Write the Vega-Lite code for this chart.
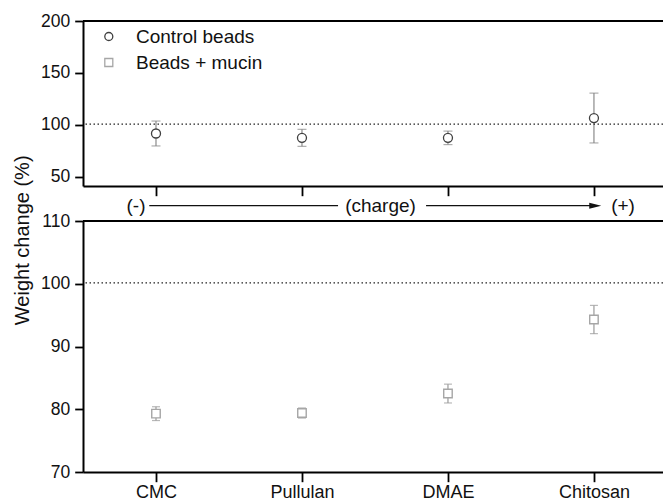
{
  "$schema": "https://vega.github.io/schema/vega-lite/v6.json",
  "padding": {"left": 12, "top": 12, "right": 0, "bottom": 0},
  "bounds": "flush",
  "spacing": 35,
  "config": {
    "view": {"stroke": null},
    "font": "Liberation Sans",
    "axis": {
      "domainColor": "#000",
      "domainWidth": 2,
      "ticks": true,
      "tickColor": "#000",
      "tickWidth": 1.8,
      "labelFont": "Liberation Sans",
      "labelFontSize": 17.5,
      "labelColor": "#111",
      "grid": false,
      "titleFont": "Liberation Sans",
      "titleFontSize": 20,
      "titleFontWeight": "normal"
    },
    "axisY": {"titleFontSize": 20}
  },
  "datasets": {
    "control": [
      {"sample": "CMC", "pos": 1, "series": "Control beads", "mean": 91.6, "err": 12.0},
      {"sample": "Pullulan", "pos": 2, "series": "Control beads", "mean": 87.4, "err": 8.2},
      {"sample": "DMAE", "pos": 3, "series": "Control beads", "mean": 87.4, "err": 6.5},
      {"sample": "Chitosan", "pos": 4, "series": "Control beads", "mean": 106.5, "err": 24.0}
    ],
    "mucin": [
      {"sample": "CMC", "pos": 1, "series": "Beads + mucin", "mean": 79.3, "err": 1.1},
      {"sample": "Pullulan", "pos": 2, "series": "Beads + mucin", "mean": 79.4, "err": 0.8},
      {"sample": "DMAE", "pos": 3, "series": "Beads + mucin", "mean": 82.5, "err": 1.5},
      {"sample": "Chitosan", "pos": 4, "series": "Beads + mucin", "mean": 94.3, "err": 2.25}
    ]
  },
  "resolve": {
    "scale": {"x": "independent", "y": "independent", "shape": "independent", "stroke": "independent"},
    "legend": {"shape": "independent", "stroke": "independent"}
  },
  "vconcat": [
    {
      "width": 580,
      "height": 165,
      "data": {"name": "control"},
      "layer": [
        {
          "mark": {"type": "errorbar", "color": "#8a8a8a", "thickness": 1.2, "ticks": {"size": 9, "color": "#8a8a8a", "thickness": 1.2}},
          "encoding": {
            "x": {"field": "pos", "type": "quantitative", "scale": {"domain": [0.5, 4.473], "nice": false, "zero": false},
              "axis": {"orient": "bottom", "values": [1, 2, 3, 4], "labels": false, "ticks": true, "tickSize": 9.7, "title": null}},
            "y": {"field": "mean", "type": "quantitative", "scale": {"domain": [41, 200], "nice": false, "zero": false},
              "axis": {"orient": "left", "values": [50, 75, 100, 125, 150, 175, 200], "labelExpr": "datum.value % 50 === 0 ? datum.label : ''", "ticks": true,
                "tickSize": {"condition": {"test": "datum.value % 50 === 0", "value": 8.3}, "value": 3.7}, "labelPadding": 5, "title": null}},
            "yError": {"field": "err"}
          }
        },
        {
          "data": {"values": [{}]},
          "mark": {"type": "rule", "color": "#000", "strokeWidth": 2},
          "encoding": {"y": {"datum": 200, "type": "quantitative"}}
        },
        {
          "data": {"values": [{}]},
          "mark": {"type": "rule", "color": "#222", "strokeWidth": 1.3, "strokeDash": [1.5, 2.5]},
          "encoding": {"y": {"datum": 100.6, "type": "quantitative"}}
        },
        {
          "mark": {"type": "point", "size": 81, "strokeWidth": 1.3, "fill": "white", "opacity": 1},
          "encoding": {
            "x": {"field": "pos", "type": "quantitative"},
            "y": {"field": "mean", "type": "quantitative"},
            "shape": {"field": "series", "type": "nominal",
              "scale": {"domain": ["Control beads", "Beads + mucin"], "range": ["circle", "square"]},
              "legend": {"title": null, "orient": "none", "legendX": 16.3, "legendY": 6, "direction": "vertical", "labelFontSize": 19, "labelFont": "Liberation Sans", "labelColor": "#111", "symbolSize": 64, "symbolStrokeWidth": 1.3, "labelOffset": 17.7, "rowPadding": 6, "padding": 0}},
            "stroke": {"field": "series", "type": "nominal",
              "scale": {"domain": ["Control beads", "Beads + mucin"], "range": ["#404040", "#a6a6a6"]},
              "legend": {"title": null, "orient": "none", "legendX": 16.3, "legendY": 6, "direction": "vertical", "labelFontSize": 19, "labelFont": "Liberation Sans", "labelColor": "#111", "symbolSize": 64, "symbolStrokeWidth": 1.3, "labelOffset": 17.7, "rowPadding": 6, "padding": 0}}
          }
        }
      ]
    },
    {
      "width": 580,
      "height": 251,
      "data": {"name": "mucin"},
      "layer": [
        {
          "mark": {"type": "errorbar", "color": "#9a9a9a", "thickness": 1.2, "ticks": {"size": 8, "color": "#9a9a9a", "thickness": 1.2}},
          "encoding": {
            "x": {"field": "pos", "type": "quantitative", "scale": {"domain": [0.5, 4.473], "nice": false, "zero": false},
              "axis": {"orient": "bottom", "values": [1, 2, 3, 4], "labelExpr": "['', 'CMC', 'Pullulan', 'DMAE', 'Chitosan'][datum.value]", "labelFontSize": 18, "ticks": true, "tickSize": 9.7, "labelPadding": 2, "title": null}},
            "y": {"field": "mean", "type": "quantitative", "scale": {"domain": [70, 110], "nice": false, "zero": false},
              "axis": {"orient": "left", "values": [70, 75, 80, 85, 90, 95, 100, 105, 110], "labelExpr": "datum.value % 10 === 0 ? datum.label : ''", "ticks": true,
                "tickSize": {"condition": {"test": "datum.value % 10 === 0", "value": 8.3}, "value": 3.7}, "labelPadding": 5,
                "title": "Weight change (%)", "titleFontSize": 20, "titleFontWeight": "normal", "titleColor": "#111", "titleAngle": 270, "titleAlign": "center", "titleBaseline": "alphabetic", "titleX": -54.5, "titleY": 18.8}},
            "yError": {"field": "err"}
          }
        },
        {
          "data": {"values": [{}]},
          "mark": {"type": "rule", "color": "#000", "strokeWidth": 2},
          "encoding": {"y": {"datum": 110, "type": "quantitative"}}
        },
        {
          "data": {"values": [{}]},
          "mark": {"type": "rule", "color": "#222", "strokeWidth": 1.3, "strokeDash": [1.5, 2.5]},
          "encoding": {"y": {"datum": 100.15, "type": "quantitative"}}
        },
        {
          "mark": {"type": "point", "size": 72, "strokeWidth": 1.4, "fill": "white", "opacity": 1},
          "encoding": {
            "x": {"field": "pos", "type": "quantitative"},
            "y": {"field": "mean", "type": "quantitative"},
            "shape": {"field": "series", "type": "nominal",
              "scale": {"domain": ["Control beads", "Beads + mucin"], "range": ["circle", "square"]}, "legend": null},
            "stroke": {"field": "series", "type": "nominal",
              "scale": {"domain": ["Control beads", "Beads + mucin"], "range": ["#404040", "#a6a6a6"]}, "legend": null}
          }
        },
        {
          "data": {"values": [{}]},
          "mark": {"type": "rule", "color": "#111", "strokeWidth": 1.3},
          "encoding": {"x": {"datum": 0.954, "type": "quantitative"}, "x2": {"datum": 2.247}, "y": {"datum": 112.45, "type": "quantitative"}}
        },
        {
          "data": {"values": [{}]},
          "mark": {"type": "rule", "color": "#111", "strokeWidth": 1.3},
          "encoding": {"x": {"datum": 2.85, "type": "quantitative"}, "x2": {"datum": 4.0}, "y": {"datum": 112.45, "type": "quantitative"}}
        },
        {
          "data": {"values": [{}]},
          "mark": {"type": "point", "shape": "M-1,-0.5L1,0L-1,0.5Z", "size": 144, "filled": true, "color": "#111", "opacity": 1, "strokeWidth": 0},
          "encoding": {"x": {"datum": 4.009, "type": "quantitative"}, "y": {"datum": 112.45, "type": "quantitative"}}
        },
        {
          "data": {"values": [{}]},
          "mark": {"type": "text", "fontSize": 19, "font": "Liberation Sans", "baseline": "middle", "align": "center", "color": "#111"},
          "encoding": {"x": {"datum": 0.863, "type": "quantitative"}, "y": {"datum": 112.45, "type": "quantitative"}, "text": {"value": "(-)"}}
        },
        {
          "data": {"values": [{}]},
          "mark": {"type": "text", "fontSize": 19, "font": "Liberation Sans", "baseline": "middle", "align": "center", "color": "#111"},
          "encoding": {"x": {"datum": 2.538, "type": "quantitative"}, "y": {"datum": 112.45, "type": "quantitative"}, "text": {"value": "(charge)"}}
        },
        {
          "data": {"values": [{}]},
          "mark": {"type": "text", "fontSize": 19, "font": "Liberation Sans", "baseline": "middle", "align": "center", "color": "#111"},
          "encoding": {"x": {"datum": 4.199, "type": "quantitative"}, "y": {"datum": 112.45, "type": "quantitative"}, "text": {"value": "(+)"}}
        }
      ]
    }
  ]
}
